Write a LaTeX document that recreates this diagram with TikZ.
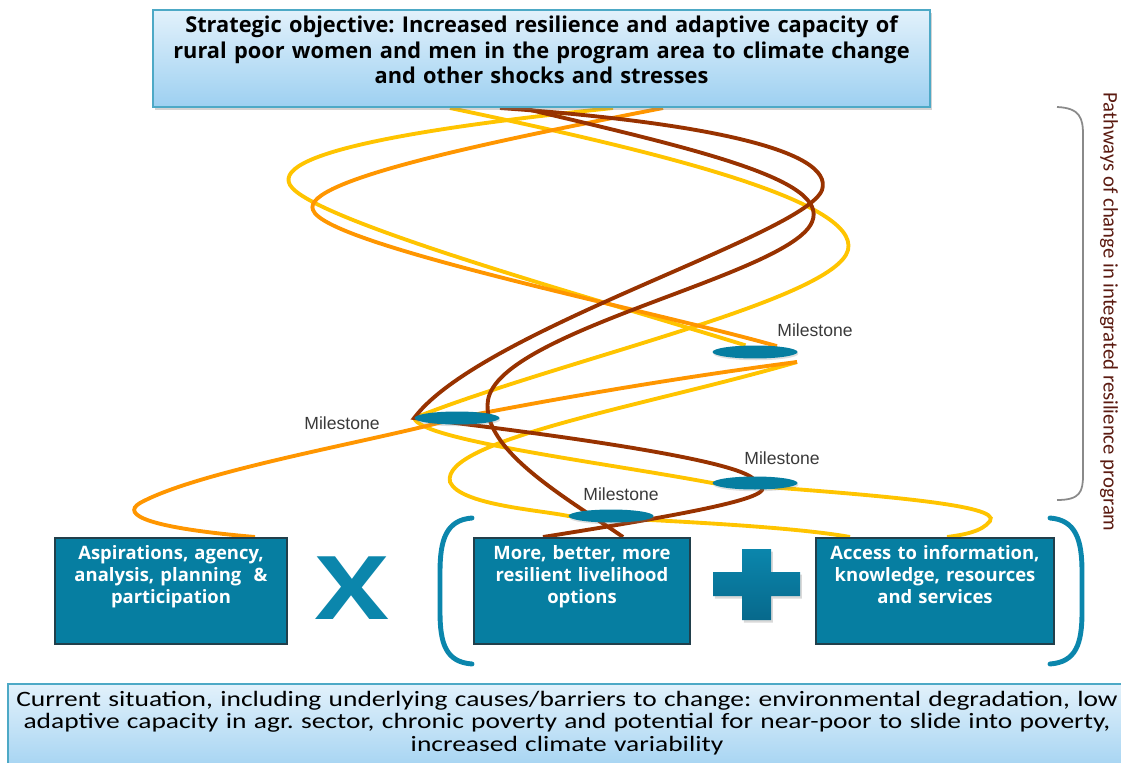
\documentclass[tikz,border=0pt]{standalone}
\usepackage{fontspec}
\setmainfont{Open Sans}
\newfontfamily\nowfont{Carlito}[FakeStretch=1.25]
\newfontfamily\sidefont{Carlito}
\newfontfamily\msfont{Liberation Sans}
\usetikzlibrary{shapes.geometric,shadows,backgrounds}
\frenchspacing

\definecolor{tealbox}{HTML}{067EA1}
\definecolor{tealdark}{HTML}{213F4B}
\definecolor{skytop}{HTML}{E2F1FB}
\definecolor{skybot}{HTML}{9DD0F1}
\definecolor{skyline}{HTML}{4DA9C6}
\definecolor{pathyellow}{HTML}{FFC400}
\definecolor{pathorange}{HTML}{FF9600}
\definecolor{pathbrown}{HTML}{983200}
\definecolor{bracegray}{HTML}{8A8A8A}
\definecolor{sidetext}{HTML}{5B1A10}
\definecolor{mstext}{HTML}{3A3A3A}
\definecolor{signcol}{HTML}{0B86AC}
\definecolor{signdark}{HTML}{07698C}

\begin{document}
\begin{tikzpicture}[x=0.02cm, y=-0.02cm,
    goal/.style={rectangle, draw=skyline, line width=1.2pt, top color=skytop, bottom color=skybot, minimum width=15.54cm, inner xsep=0.05cm, inner ysep=0.2cm, text width=15.4cm, text height=0.25cm, text depth=1.29cm, align=center, font=\bfseries\fontsize{12.4}{14.6}\selectfont, drop shadow={opacity=0.35, shadow xshift=1pt, shadow yshift=-1.5pt}},
    pillar/.style={rectangle, draw=tealdark, line width=0.9pt, fill=tealbox, text=white, anchor=north, inner xsep=0.1cm, inner ysep=0.1cm, text height=0.34cm, text depth=1.58cm, align=center, font=\bfseries\fontsize{10.5}{12.5}\selectfont},
    milestone/.style={ellipse, fill=tealbox, minimum width=1.7cm, minimum height=0.26cm, inner sep=0pt, drop shadow={opacity=0.25, shadow xshift=0.5pt, shadow yshift=-1pt}},
    mslabel/.style={font=\msfont\fontsize{10}{12}\selectfont, text=mstext, inner sep=0pt},
    paren/.style={draw=signcol, line width=2.8pt, line cap=round},
    yellowpath/.style={draw=pathyellow, line width=2.2pt},
    orangepath/.style={draw=pathorange, line width=2.2pt},
    brownpath/.style={draw=pathbrown, line width=2.2pt}
]
\useasboundingbox (0,0) rectangle (1121,763);

% strategic objective
\node[goal] (goal) at (541.5,58.5) {Strategic objective: Increased resilience and adaptive capacity of\\rural poor women and men in the program area to climate change\\and other shocks and stresses};

% current situation
\shade[top color=skytop, bottom color=skybot] (8,684) rectangle (1140,780);
\draw[skyline, line width=1.2pt] (1140,684) -- (8,684) -- (8,780);
\node[font=\nowfont\fontsize{12.5}{13}\selectfont, align=center, text width=22.3cm, inner sep=0pt] (now) at (567,723) {Current situation, including underlying causes/barriers to change: environmental degradation, low\\adaptive capacity in agr. sector, chronic poverty and potential for near-poor to slide into poverty,\\increased climate variability};

% three boxes
\node[pillar, text width=4.44cm] (aspire) at (171,537) {Aspirations, agency,\\analysis, planning~~\&\\participation};
\node[pillar, text width=4.12cm] (liveli) at (582,537) {More, better, more\\resilient livelihood\\options};
\node[pillar, text width=4.56cm] (access) at (935,537) {Access to information,\\knowledge, resources\\and services};

% signs and brackets
\node[font=\bfseries\fontsize{50}{50}\selectfont, text=signcol, inner sep=0pt] (times) at (352,588) {\scalebox{1.25}[1]{X}};
\shade[top color=signcol, bottom color=signdark, drop shadow={opacity=0.3, shadow xshift=1pt, shadow yshift=-1.5pt}] (713,572) -- (742,572) -- (742,549) -- (771,549) -- (771,572) -- (800,572) -- (800,596) -- (771,596) -- (771,620) -- (742,620) -- (742,596) -- (713,596) -- cycle;
\draw[paren] (472,518) .. controls (446,520) and (440,540) .. (440,572) -- (440,612) .. controls (440,644) and (446,662) .. (472,664);
\draw[paren] (1050,518) .. controls (1076,520) and (1082,540) .. (1082,572) -- (1082,612) .. controls (1082,644) and (1076,662) .. (1050,664);

% milestones
\node[milestone] (ms1) at (755,352) {};
\node[milestone] (ms2) at (457,418) {};
\node[milestone] (ms3) at (755,483) {};
\node[milestone] (ms4) at (611,516) {};
\node[mslabel] (ms1lab) at (815,330) {Milestone};
\node[mslabel] (ms2lab) at (342,423) {Milestone};
\node[mslabel] (ms3lab) at (782,458) {Milestone};
\node[mslabel] (ms4lab) at (621,494) {Milestone};

% side brace and text
\draw[bracegray, line width=1pt] (1057,107) .. controls (1080,108) and (1083,118) .. (1083,135) -- (1083,475) .. controls (1083,492) and (1080,500) .. (1057,500);
\node[font=\sidefont\fontsize{11.8}{13}\selectfont, text=sidetext, rotate=-90, inner sep=0pt] (sidelab) at (1109,312) {Pathways of change in integrated resilience program};

% path ends
\coordinate (y1top) at (450,108);
\coordinate (b1top) at (500,108);
\coordinate (b2top) at (522,108);
\coordinate (y2top) at (613,108);
\coordinate (o1top) at (663,108);
\coordinate (turn) at (797,362);
\coordinate (o2foot) at (255,537);
\coordinate (b1foot) at (543,537);
\coordinate (b2foot) at (623,537);
\coordinate (y4foot) at (850,537);
\coordinate (y3foot) at (947,537);

\begin{pgfonlayer}{background}
\draw[yellowpath] (y1top) .. controls (650,150) and (860,200) .. (848,250) .. controls (835,300) and (560,360) .. (ms2.west);
\draw[yellowpath] (y2top) .. controls (450,125) and (270,150) .. (290,185) .. controls (310,220) and (600,300) .. (ms1.145);
\draw[orangepath] (o1top) .. controls (500,140) and (300,180) .. (313,210) .. controls (325,245) and (650,310) .. (ms1.15);
\draw[yellowpath] (ms2.west) .. controls (420,440) and (600,462) .. (ms3.west) .. controls (880,495) and (1002,505) .. (990,521) .. controls (982,532) and (962,535) .. (y3foot);
\draw[yellowpath] (turn) .. controls (650,405) and (440,440) .. (450,482) .. controls (460,505) and (540,510) .. (ms4.west) .. controls (700,522) and (800,528) .. (y4foot);
\draw[orangepath] (o2foot) .. controls (150,528) and (120,515) .. (140,503) .. controls (200,470) and (380,440) .. (ms2.center) .. controls (600,390) and (720,372) .. (turn);
\draw[brownpath] (b1top) .. controls (700,122) and (835,150) .. (822,190) .. controls (805,235) and (480,330) .. (ms2.west) .. controls (600,440) and (760,465) .. (ms3.center) .. controls (790,495) and (700,512) .. (b1foot);
\draw[brownpath] (b2top) .. controls (700,150) and (830,180) .. (812,222) .. controls (790,275) and (500,330) .. (488,400) .. controls (480,450) and (570,500) .. (b2foot);
\end{pgfonlayer}
\end{tikzpicture}
\end{document}
